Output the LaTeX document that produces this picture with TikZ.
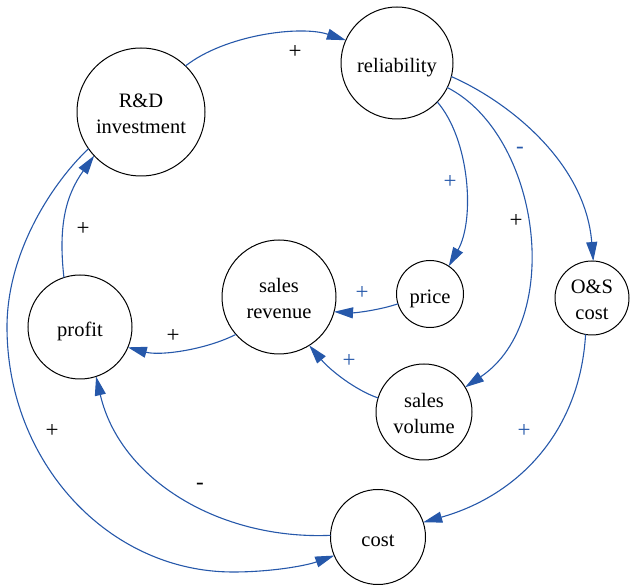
\documentclass[tikz,border=0pt]{standalone}
\usepackage{fontspec}
\setmainfont{Liberation Serif}
\usetikzlibrary{arrows.meta}
\definecolor{linkblue}{RGB}{38,88,170}
% raises the first of two text rows to a fixed height
\newcommand\firstrow{\rule{0pt}{17.3pt}}
\begin{document}
\begin{tikzpicture}[x=1pt,y=-1pt,
  var/.style={circle,draw=black,line width=1pt,inner sep=0pt,outer sep=0pt,
    align=center,font=\fontsize{20.5}{26.7}\selectfont},
  oneline/.style={var,text height=19pt,text depth=0pt},
  link/.style={draw=linkblue,line width=1.1pt,
    -{Triangle[length=19pt,width=11pt]}},
  pol/.style={font=\fontsize{23}{26}\selectfont,inner sep=0pt,outer sep=0pt},
  polblue/.style={pol,text=linkblue}]
\useasboundingbox (0,0) rectangle (630,585);

% variables
\node[var,minimum size=128pt]     (rd)     at (141,112) {\firstrow R\&D\\investment};
\node[oneline,minimum size=112pt] (rel)    at (397,63)  {reliability};
\node[oneline,minimum size=67pt]  (price)  at (430,294) {price};
\node[var,minimum size=74pt]      (os)     at (592,298) {\firstrow O\&S\\cost};
\node[var,minimum size=96pt]      (sv)     at (424,412) {\firstrow sales\\volume};
\node[var,minimum size=114pt]     (rev)    at (279,297) {\firstrow sales\\revenue};
\node[oneline,minimum size=104pt] (profit) at (80,327)  {profit};
\node[oneline,minimum size=95pt]  (cost)   at (378,537) {cost};

% bend points of the long R&D -> cost link
\coordinate (w1) at (7,327);
\coordinate (w2) at (233,572);

% causal links
\draw[link] (rd.46) .. controls (225,35) and (300,25) .. (rel.156);
\draw[link] (rel.-44) .. controls (470,140) and (475,220) .. (price.56);
\draw[link] (rel.-26) .. controls (540,135) and (565,320) .. (sv.31);
\draw[link] (rel.-14) .. controls (505,100) and (585,160) .. (os.88);
\draw[link] (price.197) .. controls (380,310) and (355,313) .. (rev.-15);
\draw[link] (sv.163) .. controls (355,390) and (330,370) .. (rev.-58);
\draw[link] (rev.221) .. controls (205,350) and (160,356) .. (profit.-23);
\draw[link] (profit.108) .. controls (58,225) and (66,195) .. (rd.223);
\draw[link] (rd.215) .. controls (55,180) and (7,250) .. (w1)
  .. controls (7,462) and (108,572) .. (w2)
  .. controls (270,572) and (305,566) .. (cost.203);
\draw[link] (cost.178) .. controls (220,540) and (120,480) .. (profit.-72);
\draw[link] (os.-100) .. controls (580,430) and (520,495) .. (cost.18);

% polarities
\node[pol]     (p1)  at (295,52)  {+};
\node[polblue] (p2)  at (450,182) {+};
\node[pol]     (p3)  at (516,221) {+};
\node[polblue,anchor=base] (p4) at (520,153.5) {-};
\node[polblue] (p5)  at (362,293) {+};
\node[polblue] (p6)  at (349,361) {+};
\node[pol]     (p7)  at (173,336) {+};
\node[pol]     (p8)  at (83,229)  {+};
\node[pol]     (p9)  at (52,431)  {+};
\node[pol,anchor=base] (p10) at (200,489.5) {-};
\node[polblue] (p11) at (524,431) {+};
\end{tikzpicture}
\end{document}
